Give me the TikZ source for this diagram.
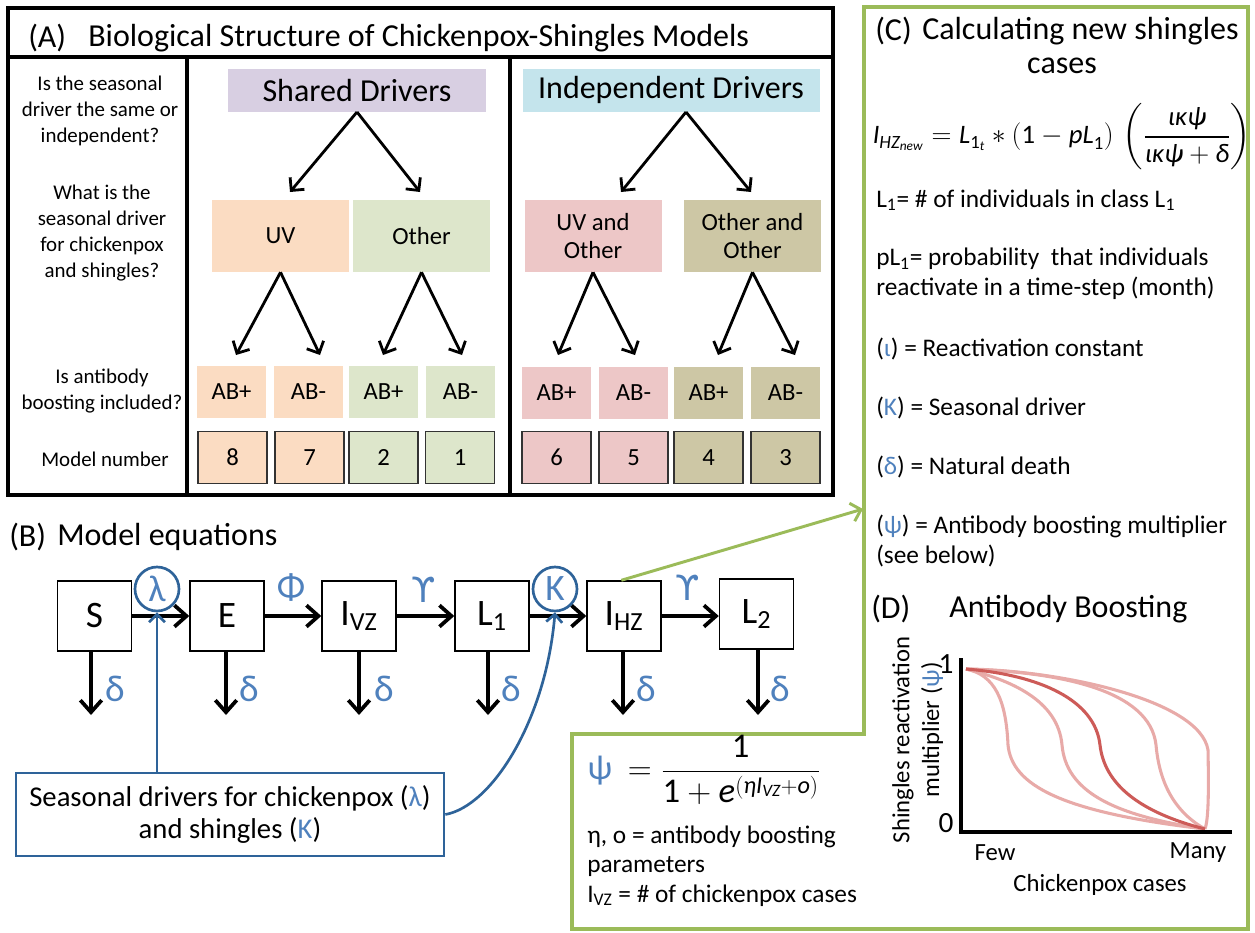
\documentclass[tikz,border=0pt]{standalone}
\usepackage{fontspec}
\usepackage{amsmath}
\setmainfont{Carlito}
\newfontfamily\djv{DejaVu Sans}
\usetikzlibrary{arrows.meta}
\definecolor{lav}{HTML}{D8CFE2}
\definecolor{lblue}{HTML}{C4E4EC}
\definecolor{peach}{HTML}{FBDCC2}
\definecolor{lgreen}{HTML}{DDE6CB}
\definecolor{pinkc}{HTML}{EDC7C7}
\definecolor{khaki}{HTML}{CDC7A5}
\definecolor{gb}{HTML}{4F81BD}
\definecolor{cb}{HTML}{2E6399}
\definecolor{gfr}{HTML}{9BBB59}
\definecolor{curl}{HTML}{E8AAA8}
\definecolor{curd}{HTML}{CD5B58}
\definecolor{mbord}{HTML}{333333}
\newcommand{\fsz}[2]{\fontsize{#1}{#2}\selectfont}
\newcommand{\bl}[1]{\textcolor{gb}{#1}}
\begin{document}
\begin{tikzpicture}[x=0.75pt,y=-0.75pt,
  q/.style={font=\fsz{15.7}{19.5}, align=center, inner sep=0pt},
  drv/.style={inner sep=0pt, font=\fsz{24}{28}},
  sub/.style={inner sep=0pt, minimum width=102.75pt, minimum height=54pt, font=\fsz{18.5}{21}, align=center},
  abbox/.style={inner sep=0pt, minimum width=51.75pt, minimum height=39pt, font=\fsz{18.5}{21}},
  mbox/.style={abbox, draw=mbord, line width=1.1pt},
  aarr/.style={line width=2.1pt, -{Straight Barb[length=7pt,width=14pt]}},
  sbox/.style={draw, line width=1.1pt, minimum width=55.5pt, minimum height=52.5pt, inner sep=0pt, font=\fsz{28}{32}},
  barr/.style={line width=2.8pt, -{Straight Barb[length=9pt,width=16pt]}},
  glab/.style={inner sep=0pt, text=gb, font=\fsz{28}{32}},
  circ/.style={circle, draw=cb, line width=2pt, minimum size=33pt, inner sep=0pt, text=gb, font=\fsz{28}{32}},
  bluarr/.style={cb, line width=2pt, -{Straight Barb[length=6pt,width=12pt]}},
  grarr/.style={gfr, line width=2.2pt, -{Straight Barb[length=7pt,width=14pt]}},
  ctext/.style={anchor=west, inner sep=0pt, font=\fsz{19}{22.5}, align=left},
  dtext/.style={inner sep=0pt, font=\fsz{18.5}{21}},
  ttl/.style={anchor=west, inner sep=0pt, font=\fsz{24}{28}},
  lcur/.style={curl, line width=2.3pt},
  dcur/.style={curd, line width=2.3pt}
]
\useasboundingbox (0,0) rectangle (1255,932);
\fill[white] (0,0) rectangle (1255,932);

% ---------------- Panel A ----------------
\draw[line width=3pt] (8,8) rectangle (833,495);
\draw[line width=3pt] (8,57) -- (833,57);
\draw[line width=3pt] (187,57) -- (187,495);
\draw[line width=3pt] (510,57) -- (510,495);
\node[ttl] (atag) at (28,38) {(A)};
\node[ttl] (atitle) at (88,38) {Biological Structure of Chickenpox-Shingles Models};

\node[q] (q1) at (100,111) {Is the seasonal\\driver the same or\\independent?};
\node[q] (q2) at (102,233) {What is the\\seasonal driver\\for chickenpox\\and shingles?};
\node[q] (q3) at (102,391) {Is antibody\\boosting included?};
\node[q] (q4) at (105,459) {Model number};

\node[drv, fill=lav, minimum width=193.5pt, minimum height=32.25pt] (shared) at (357,90.5) {Shared Drivers};
\node[drv, fill=lblue, minimum width=222.75pt, minimum height=32.25pt] (indep) at (671,90) {Independent Drivers};

\node[sub, fill=peach] (uv) at (280.5,236) {UV};
\node[sub, fill=lgreen] (oth) at (421.5,236) {Other};
\node[sub, fill=pinkc] (uvo) at (593,236) {UV and\\Other};
\node[sub, fill=khaki] (oo) at (752.5,236) {Other and\\Other};

\coordinate (sh0) at (357,112);
\coordinate (in0) at (686,112);
\coordinate (t1) at (290,192);
\coordinate (t2) at (420,192);
\coordinate (t3) at (621,192);
\coordinate (t4) at (751,192);
\draw[aarr] (sh0) -- (t1);
\draw[aarr] (sh0) -- (t2);
\draw[aarr] (in0) -- (t3);
\draw[aarr] (in0) -- (t4);

\node[abbox, fill=peach] (ab1) at (231.5,392) {AB+};
\node[abbox, fill=peach] (ab2) at (308.5,392) {AB-};
\node[abbox, fill=lgreen] (ab3) at (383.5,392) {AB+};
\node[abbox, fill=lgreen] (ab4) at (460.5,392) {AB-};
\node[abbox, fill=pinkc] (ab5) at (556.5,393) {AB+};
\node[abbox, fill=pinkc] (ab6) at (633.5,393) {AB-};
\node[abbox, fill=khaki] (ab7) at (708.5,393) {AB+};
\node[abbox, fill=khaki] (ab8) at (785.5,393) {AB-};

\coordinate (u1) at (236,355);
\coordinate (u2) at (320,355);
\coordinate (u3) at (383,355);
\coordinate (u4) at (462,355);
\coordinate (u5) at (558,355);
\coordinate (u6) at (635,355);
\coordinate (u7) at (718,355);
\coordinate (u8) at (795,355);
\draw[aarr] (uv.south) -- (u1);
\draw[aarr] (uv.south) -- (u2);
\draw[aarr] (oth.south) -- (u3);
\draw[aarr] (oth.south) -- (u4);
\draw[aarr] (uvo.south) -- (u5);
\draw[aarr] (uvo.south) -- (u6);
\draw[aarr] (oo.south) -- (u7);
\draw[aarr] (oo.south) -- (u8);

\node[mbox, fill=peach] (m8) at (232.5,457.5) {8};
\node[mbox, fill=peach] (m7) at (309.5,457.5) {7};
\node[mbox, fill=lgreen] (m2) at (383.5,457.5) {2};
\node[mbox, fill=lgreen] (m1) at (460,457.5) {1};
\node[mbox, fill=pinkc] (m6) at (556.5,457.5) {6};
\node[mbox, fill=pinkc] (m5) at (633.5,457.5) {5};
\node[mbox, fill=khaki] (m4) at (708.5,457.5) {4};
\node[mbox, fill=khaki] (m3) at (785.5,457.5) {3};

% ---------------- Panel B ----------------
\node[ttl] (btag) at (9,537) {(B)};
\node[ttl] (btitle) at (57,537) {Model equations};

\node[sbox] (S) at (94.5,616) {S};
\node[sbox] (E) at (227,616) {E};
\node[sbox] (IVZ) at (359,616) {I\textsubscript{VZ}};
\node[sbox] (L1) at (492,616) {L\textsubscript{1}};
\node[sbox] (IHZ) at (624,616) {I\textsubscript{HZ}};
\node[sbox] (L2) at (756.5,614) {L\textsubscript{2}};

\draw[barr] (S) -- (E);
\draw[barr] (E) -- (IVZ);
\draw[barr] (IVZ) -- (L1);
\draw[barr] (L1) -- (IHZ);
\draw[barr] (IHZ) -- (L2.west |- IHZ);

\coordinate (dS) at (91,715);
\coordinate (dE) at (226,715);
\coordinate (dI) at (359,715);
\coordinate (dL) at (488,715);
\coordinate (dH) at (623,715);
\coordinate (dL2) at (758,715);
\draw[barr] (S.south -| dS) -- (dS);
\draw[barr] (E.south -| dE) -- (dE);
\draw[barr] (IVZ.south -| dI) -- (dI);
\draw[barr] (L1.south -| dL) -- (dL);
\draw[barr] (IHZ.south -| dH) -- (dH);
\draw[barr] (L2.south -| dL2) -- (dL2);

\node[glab] (dl1) at (115,689) {δ};
\node[glab] (dl2) at (249,689) {δ};
\node[glab] (dl3) at (384,689) {δ};
\node[glab] (dl4) at (511,689) {δ};
\node[glab] (dl5) at (646,689) {δ};
\node[glab] (dl6) at (780,689) {δ};

\node[glab] (phi) at (291,588) {Φ};
\node[glab] (ups1) at (424,590) {\fsz{26}{30}\djv ϒ};
\node[glab] (ups2) at (688,588) {\fsz{26}{30}\djv ϒ};

\node[circ] (lam) at (157,589) {λ};
\node[circ] (kc) at (555,589) {Κ};

\node[draw=cb, line width=2pt, minimum width=321pt, minimum height=62.25pt, inner sep=0pt, align=center, font=\fsz{21.5}{24}] (sd) at (230,814.5) {Seasonal drivers for chickenpox (\bl{λ})\\and shingles (\bl{Κ})};

\draw[bluarr] (sd.north -| lam) -- (lam.south);
\draw[bluarr] (sd.east) .. controls (492,806) and (546,720) .. (kc.south);

% ---------------- Panel C ----------------
\draw[gfr, line width=2.6pt] (864,7) -- (1248,7) -- (1248,929) -- (572,929) -- (572,734) -- (864,734) -- cycle;
\coordinate (cin) at (863,509);
\draw[grarr] ([xshift=-2pt]IHZ.north) -- (cin);

\node[ttl] (ctag) at (875,31) {(C)};
\node[ttl] (ctitle) at (922,31) {Calculating new shingles};
\node[inner sep=0pt, font=\fsz{24}{28}] (ctitle2) at (1062,66) {cases};
\node[inner sep=0pt, font=\fsz{20}{24}] (cform) at (1062,137) {$\textit{I}_{\textit{HZ}_{\textit{new}}} = \textit{L}_{\textup{1}_{\textit{t}}} \ast (\textup{1} - \textit{pL}_{\textup{1}})\,\left(\dfrac{\textit{ικψ}}{\textit{ικψ} + \textit{δ}}\right)$};

\node[ctext] (c1) at (876,200) {L\textsubscript{1}= \# of individuals in class L\textsubscript{1}};
\node[ctext] (c2) at (876,274) {pL\textsubscript{1}= probability\ \ that individuals\\reactivate in a time-step (month)};
\node[ctext] (c3) at (876,349) {(\bl{ι}) = Reactivation constant};
\node[ctext] (c4) at (876,408) {(\bl{Κ}) = Seasonal driver};
\node[ctext] (c5) at (876,467) {(\bl{δ}) = Natural death};
\node[ctext] (c6) at (876,541) {(\bl{ψ}) = Antibody boosting multiplier\\(see below)};

% psi formula
\node[inner sep=0pt, font=\fsz{26}{30}] (psiform) at (704,770) {\bl{ψ}\ \ $= \dfrac{\textup{1}}{\textup{1}+\textit{e}^{(\textit{η}\textit{I}_{\textit{VZ}}+\textit{o})}}$};
\node[ctext, font=\fsz{19}{22}] (p1) at (587,866) {η, o = antibody boosting\\parameters\\I\textsubscript{VZ} = \# of chickenpox cases};

% ---------------- Panel D ----------------
\node[ttl] (dtag) at (871,609) {(D)};
\node[ttl] (dtitle) at (949,609) {Antibody Boosting};

\draw[lcur] (966,669) .. controls (1060,670) and (1200,700) .. (1208,750) .. controls (1209,800) and (1208,820) .. (1205,829);
\draw[lcur] (966,669) .. controls (1060,672) and (1150,690) .. (1156,745) .. controls (1160,790) and (1180,815) .. (1205,829);
\draw[lcur] (966,669) .. controls (1010,680) and (1058,700) .. (1062,745) .. controls (1066,790) and (1110,815) .. (1205,829);
\draw[lcur] (966,669) .. controls (995,675) and (1006,700) .. (1008,745) .. controls (1012,785) and (1060,812) .. (1205,829);
\draw[dcur] (966,669) .. controls (1040,675) and (1095,700) .. (1100,745) .. controls (1105,790) and (1150,815) .. (1205,829);

\coordinate (ytop) at (961,658);
\coordinate (orig) at (961,832);
\coordinate (xend) at (1232,832);
\draw[line width=3pt] (ytop) -- (orig) -- (xend);

\node[dtext, font=\fsz{22}{26}] (one) at (946,664) {1};
\node[dtext, font=\fsz{22}{26}] (zero) at (946,823) {0};
\node[dtext] (few) at (995,853) {Few};
\node[dtext] (many) at (1198,853) {Many};
\node[dtext] (xlab) at (1100,885) {Chickenpox cases};
\node[dtext, rotate=90] (ylab1) at (903,740) {Shingles reactivation};
\node[dtext, rotate=90] (ylab2) at (932,730) {multiplier (\bl{ψ})};
\end{tikzpicture}
\end{document}
